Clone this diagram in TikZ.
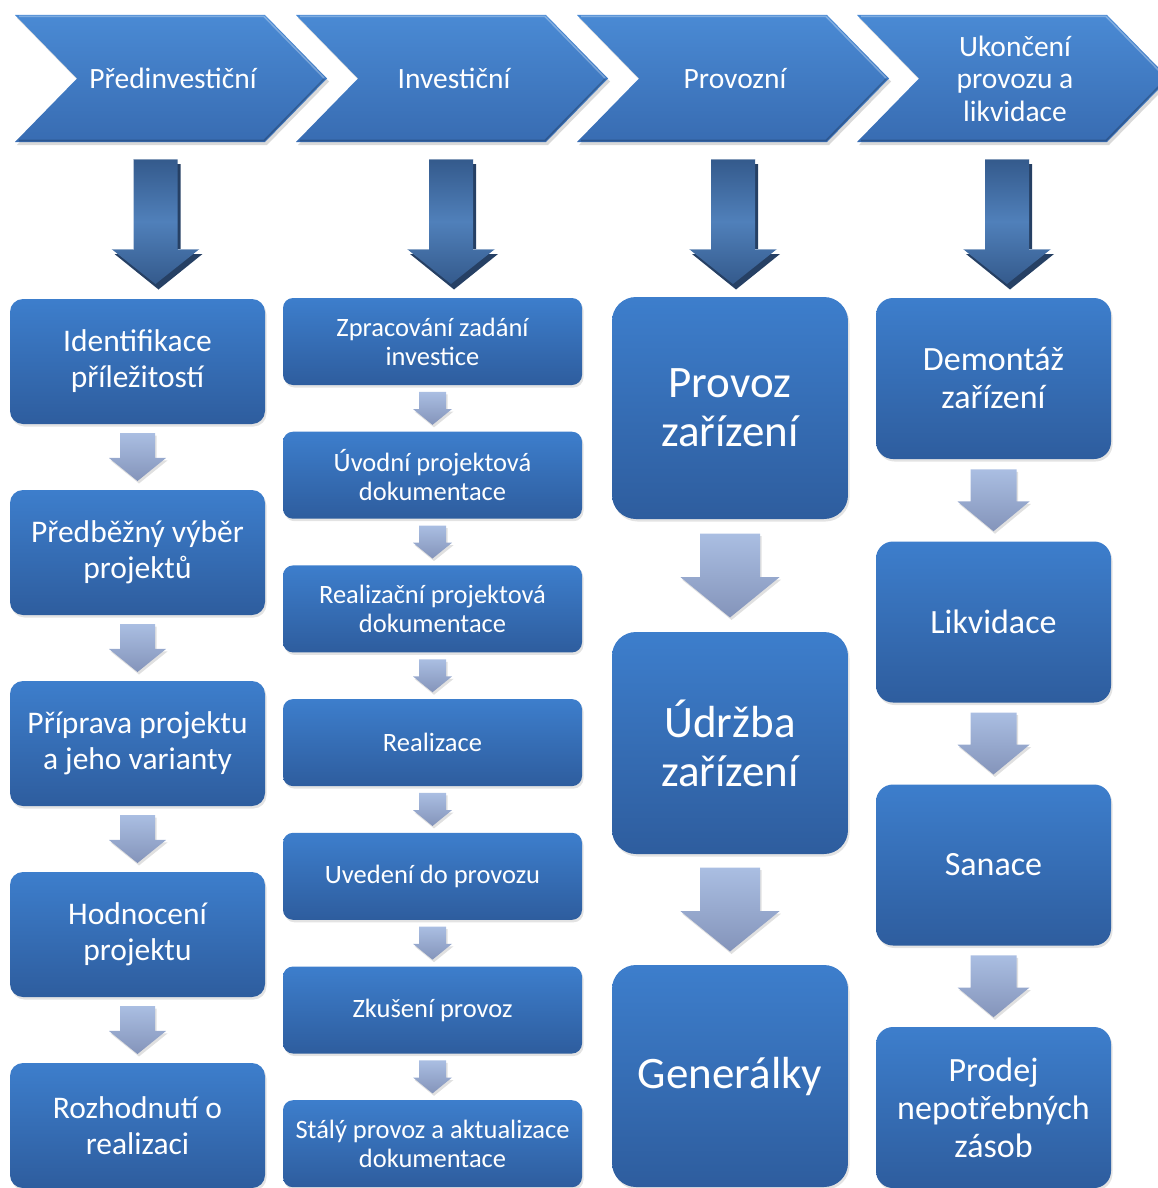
\documentclass[tikz,border=0pt]{standalone}
\usepackage{fontspec}
\setmainfont{Carlito}
\usetikzlibrary{calc,shadows}

\definecolor{boxtop}{RGB}{61,126,204}
\definecolor{boxbot}{RGB}{46,93,158}
\definecolor{chevtop}{RGB}{74,138,212}
\definecolor{chevbot}{RGB}{56,108,178}
\definecolor{arrdark}{RGB}{52,90,140}
\definecolor{arrmid}{RGB}{80,128,186}
\definecolor{arrshade}{RGB}{38,64,100}
\definecolor{sarrtop}{RGB}{170,190,226}
\definecolor{sarrbot}{RGB}{132,148,186}

\newcommand\ftcolA{\fontsize{31.5}{36}\selectfont}
\newcommand\ftcolB{\fontsize{26.5}{29}\selectfont}
\newcommand\ftcolC{\fontsize{45}{49}\selectfont}
\newcommand\ftcolD{\fontsize{34}{38}\selectfont}
\newcommand\ftchev{\fontsize{29.5}{32.5}\selectfont}

\begin{document}
\begin{tikzpicture}[x=1pt,y=-1pt,
  card/.style={rounded corners=#1, top color=boxtop, bottom color=boxbot,
    text=white, align=center, inner sep=0pt,
    drop shadow={shadow xshift=1.5pt,shadow yshift=-2.5pt,opacity=0.22}},
  cardA/.style={card=13pt, minimum width=255pt, minimum height=125pt, font=\ftcolA},
  cardB/.style={card=10pt, minimum width=299pt, minimum height=87pt, font=\ftcolB},
  cardC/.style={card=24pt, minimum width=236pt, minimum height=222pt, font=\ftcolC},
  cardD/.style={card=17pt, minimum width=235pt, minimum height=161pt, font=\ftcolD},
  chevshape/.style={top color=chevtop, bottom color=chevbot},
  chevtext/.style={text=white, align=center, font=\ftchev},
  % small block arrow between two cards: #1 height, #2 shaft width, #3 head width
  pics/sarr/.style n args={3}{code={
    \fill[black,opacity=0.12]
      ({-#2/2+1.5},{-#1/2+2.5}) -- ({#2/2+1.5},{-#1/2+2.5}) -- ({#2/2+1.5},{0.02*#1+2.5})
      -- ({#3/2+1.5},{0.02*#1+2.5}) -- (1.5,{#1/2+2.5}) -- ({-#3/2+1.5},{0.02*#1+2.5})
      -- ({-#2/2+1.5},{0.02*#1+2.5}) -- cycle;
    \shade[top color=sarrtop, bottom color=sarrbot]
      ({-#2/2},{-#1/2}) -- ({#2/2},{-#1/2}) -- ({#2/2},{0.02*#1})
      -- ({#3/2},{0.02*#1}) -- (0,{#1/2}) -- ({-#3/2},{0.02*#1})
      -- ({-#2/2},{0.02*#1}) -- cycle;
  }},
  % large extruded arrow under a phase
  pics/bigarr/.style={code={
    \fill[arrshade]
      (-19,-57.5) -- (25,-57.5) -- (25,32.5) -- (47,32.5) -- (3,68) -- (-41,32.5) -- (-19,32.5) -- cycle;
    \shade[top color=arrdark, bottom color=arrdark, middle color=arrmid]
      (-22,-62.5) -- (22,-62.5) -- (22,27.5) -- (44,27.5) -- (0,62.5) -- (-44,27.5) -- (-22,27.5) -- cycle;
    \draw[white,opacity=0.4,line width=0.8pt] (-22,-62.5) -- (22,-62.5);
    \draw[white,opacity=0.4,line width=0.8pt] (-44,27.5) -- (-22,27.5) (22,27.5) -- (44,27.5);
  }}
]
\clip (0,0) rectangle (1158,1188);

% phase chevrons
\foreach \x/\nm/\txt in {15/ch1/{Předinvestiční}, 296/ch2/{Investiční}, 577/ch3/{Provozní},
    857/ch4/{Ukončení\\provozu a\\likvidace}}{
  \fill[black,opacity=0.15] (\x+2,18) -- ++(250,0) -- ++(62,63.5) -- ++(-62,63.5)
    -- ++(-250,0) -- ++(62,-63.5) -- cycle;
  \shade[chevshape] (\x,15) -- ++(250,0) -- ++(62,63.5) -- ++(-62,63.5)
    -- ++(-250,0) -- ++(62,-63.5) -- cycle;
  \draw[white,opacity=0.3,line width=1.5pt] (\x+4,16.5) -- ++(245,0) -- ++(60,61.5);
  \draw[black,opacity=0.2,line width=1.5pt] (\x+4,140.5) -- ++(245,0) -- ++(60,-61.5);
  \node[chevtext] (\nm) at (\x+158,78.5) {\txt};
}

% arrows from the phases down to their columns
\pic at (155.5,221.5) {bigarr};
\pic at (451,221.5) {bigarr};
\pic at (733,221.5) {bigarr};
\pic at (1007,221.5) {bigarr};

% column 1
\node[cardA] (a1) at (137.5,361.5) {Identifikace\\příležitostí};
\node[cardA] (a2) at (137.5,552.5) {Předběžný výběr\\projektů};
\node[cardA] (a3) at (137.5,743.5) {Příprava projektu\\a jeho varianty};
\node[cardA] (a4) at (137.5,934.5) {Hodnocení\\projektu};
\node[cardA] (a5) at (137.5,1125.5) {Rozhodnutí o\\realizaci};
\foreach \u/\v in {a1/a2,a2/a3,a3/a4,a4/a5}
  \pic at ($(\u.south)!0.5!(\v.north)$) {sarr={48}{35}{57}};

% column 2
\node[cardB] (b1) at (432.5,341.5) {Zpracování zadání\\investice};
\node[cardB] (b2) at (432.5,475.2) {Úvodní projektová\\dokumentace};
\node[cardB] (b3) at (432.5,608.9) {Realizační projektová\\dokumentace};
\node[cardB] (b4) at (432.5,742.6) {Realizace};
\node[cardB] (b5) at (432.5,876.3) {Uvedení do provozu};
\node[cardB] (b6) at (432.5,1010) {Zkušení provoz};
\node[cardB] (b7) at (432.5,1143.7) {Stálý provoz a aktualizace\\dokumentace};
\foreach \u/\v in {b1/b2,b2/b3,b3/b4,b4/b5,b5/b6,b6/b7}
  \pic at ($(\u.south)!0.5!(\v.north)$) {sarr={33}{27}{39}};

% column 3
\node[cardC] (c1) at (730,408) {Provoz\\zařízení};
\node[cardC] (c2) at (730,743) {Údržba\\zařízení};
\node[cardC] (c3) at (730,1076) {Generálky};
\foreach \u/\v in {c1/c2,c2/c3}
  \pic at ($(\u.south)!0.5!(\v.north)$) {sarr={84}{60}{99}};

% column 4
\node[cardD] (d1) at (993.5,378.5) {Demontáž\\zařízení};
\node[cardD] (d2) at (993.5,622) {Likvidace};
\node[cardD] (d3) at (993.5,865) {Sanace};
\node[cardD] (d4) at (993.5,1107.5) {Prodej\\nepotřebných\\zásob};
\foreach \u/\v in {d1/d2,d2/d3,d3/d4}
  \pic at ($(\u.south)!0.5!(\v.north)$) {sarr={62}{46}{72}};
\end{tikzpicture}
\end{document}
